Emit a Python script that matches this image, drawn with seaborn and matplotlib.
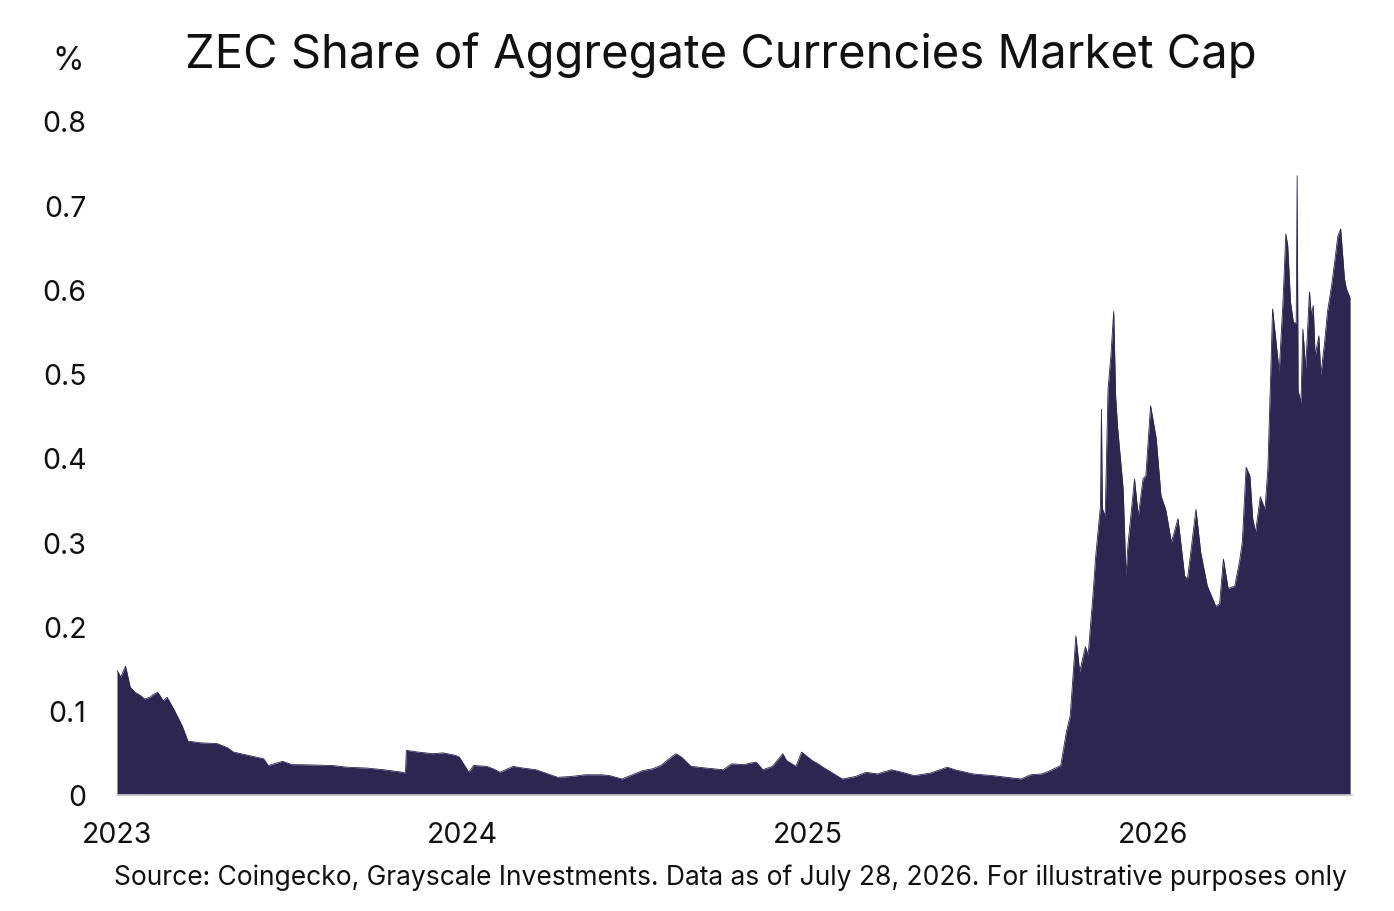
import pandas as pd
import matplotlib
matplotlib.use("Agg")
import matplotlib.pyplot as plt
import seaborn as sns

# values (share of market cap, %)
dates = [
    "2023-01-01", "2023-01-05", "2023-01-10", "2023-01-15", "2023-01-20", "2023-01-26",
    "2023-01-30", "2023-02-05", "2023-02-08", "2023-02-13", "2023-02-19", "2023-02-23",
    "2023-03-02", "2023-03-11", "2023-03-17", "2023-03-30", "2023-04-17", "2023-04-28",
    "2023-05-04", "2023-06-05", "2023-06-10", "2023-06-25", "2023-06-30", "2023-07-05",
    "2023-07-14", "2023-08-17", "2023-09-01", "2023-09-22", "2023-10-10", "2023-10-30",
    "2023-11-02", "2023-11-03", "2023-11-15", "2023-12-01", "2023-12-12", "2023-12-25",
    "2023-12-29", "2024-01-08", "2024-01-13", "2024-01-27", "2024-02-03", "2024-02-10",
    "2024-02-24", "2024-03-05", "2024-03-19", "2024-04-11", "2024-04-25", "2024-05-10",
    "2024-05-28", "2024-06-05", "2024-06-18", "2024-07-10", "2024-07-20", "2024-07-29",
    "2024-08-08", "2024-08-14", "2024-08-20", "2024-08-30", "2024-09-15", "2024-10-03",
    "2024-10-12", "2024-10-25", "2024-11-01", "2024-11-07", "2024-11-14", "2024-11-24",
    "2024-12-05", "2024-12-09", "2024-12-19", "2024-12-25", "2025-01-05", "2025-01-10",
    "2025-01-18", "2025-02-06", "2025-02-20", "2025-03-03", "2025-03-15", "2025-03-30",
    "2025-04-10", "2025-04-23", "2025-05-10", "2025-05-28", "2025-06-05", "2025-06-24",
    "2025-07-15", "2025-08-14", "2025-08-24", "2025-09-05", "2025-09-12", "2025-09-25",
    "2025-10-01", "2025-10-05", "2025-10-11", "2025-10-15", "2025-10-21", "2025-10-24",
    "2025-10-29", "2025-11-01", "2025-11-06", "2025-11-07", "2025-11-08", "2025-11-11",
    "2025-11-14", "2025-11-17", "2025-11-20", "2025-11-22", "2025-11-24", "2025-11-30",
    "2025-12-03", "2025-12-05", "2025-12-12", "2025-12-16", "2025-12-21", "2025-12-24",
    "2025-12-29", "2026-01-04", "2026-01-09", "2026-01-14", "2026-01-20", "2026-01-27",
    "2026-02-03", "2026-02-06", "2026-02-15", "2026-02-20", "2026-02-27", "2026-03-08",
    "2026-03-12", "2026-03-16", "2026-03-21", "2026-03-28", "2026-04-02", "2026-04-05",
    "2026-04-09", "2026-04-13", "2026-04-16", "2026-04-19", "2026-04-24", "2026-04-29",
    "2026-05-02", "2026-05-05", "2026-05-07", "2026-05-10", "2026-05-14", "2026-05-18",
    "2026-05-21", "2026-05-23", "2026-05-26", "2026-05-29", "2026-06-01", "2026-06-02",
    "2026-06-03", "2026-06-06", "2026-06-08", "2026-06-11", "2026-06-15", "2026-06-17",
    "2026-06-19", "2026-06-21", "2026-06-25", "2026-06-27", "2026-07-01", "2026-07-04",
    "2026-07-09", "2026-07-15", "2026-07-18", "2026-07-22", "2026-07-24", "2026-07-28",
]
share = [
    0.148, 0.140, 0.153, 0.128, 0.122, 0.118,
    0.114, 0.116, 0.119, 0.122, 0.112, 0.116,
    0.102, 0.082, 0.064, 0.062, 0.061, 0.056,
    0.051, 0.043, 0.035, 0.040, 0.038, 0.036,
    0.036, 0.035, 0.033, 0.032, 0.030, 0.027,
    0.026, 0.053, 0.051, 0.049, 0.050, 0.047,
    0.045, 0.027, 0.035, 0.034, 0.031, 0.027,
    0.034, 0.032, 0.030, 0.021, 0.022, 0.024,
    0.024, 0.023, 0.019, 0.029, 0.031, 0.035,
    0.044, 0.049, 0.045, 0.034, 0.032, 0.030,
    0.037, 0.036, 0.038, 0.039, 0.030, 0.034,
    0.049, 0.041, 0.034, 0.051, 0.041, 0.038,
    0.032, 0.019, 0.022, 0.027, 0.025, 0.030,
    0.027, 0.023, 0.026, 0.033, 0.030, 0.025,
    0.023, 0.019, 0.024, 0.025, 0.028, 0.035,
    0.075, 0.094, 0.189, 0.146, 0.176, 0.166,
    0.236, 0.284, 0.343, 0.458, 0.340, 0.331,
    0.482, 0.521, 0.574, 0.474, 0.438, 0.363,
    0.260, 0.296, 0.375, 0.331, 0.375, 0.379,
    0.462, 0.423, 0.355, 0.339, 0.300, 0.328,
    0.260, 0.256, 0.339, 0.288, 0.248, 0.224,
    0.227, 0.280, 0.245, 0.248, 0.277, 0.300,
    0.389, 0.379, 0.328, 0.312, 0.354, 0.339,
    0.387, 0.498, 0.577, 0.545, 0.502, 0.585,
    0.666, 0.652, 0.585, 0.561, 0.560, 0.735,
    0.480, 0.466, 0.553, 0.506, 0.597, 0.569,
    0.581, 0.521, 0.545, 0.498, 0.537, 0.573,
    0.609, 0.663, 0.672, 0.613, 0.601, 0.590,
]
year_ticks = ["2023-01-01", "2024-01-01", "2025-01-01", "2026-01-01"]
year_labels = ["2023", "2024", "2025", "2026"]
y_ticks = [0, 0.1, 0.2, 0.3, 0.4, 0.5, 0.6, 0.7, 0.8]
y_labels = ["0", "0.1", "0.2", "0.3", "0.4", "0.5", "0.6", "0.7", "0.8"]

df = pd.DataFrame({"date": pd.to_datetime(dates), "share": share}).sort_values("date")

sns.set_theme(style="white")
plt.rcParams["font.family"] = ["Inter", "DejaVu Sans"]

navy = "#2d2650"

fig = plt.figure(figsize=(13.94, 9.12), dpi=100)
ax = fig.add_axes([117 / 1394, 1 - 796 / 912, (1352 - 117) / 1394, (796 - 122) / 912])

sns.lineplot(data=df, x="date", y="share", ax=ax, color=navy, linewidth=0.6)
ax.fill_between(df["date"], 0, df["share"], color=navy, linewidth=0)

ax.set_xlim(pd.Timestamp("2023-01-01"), pd.Timestamp("2026-07-30"))
ax.set_ylim(0, 0.8)
ax.set_xticks(pd.to_datetime(year_ticks))
ax.set_xticklabels(year_labels, fontsize=20.5, color="#111111")
ax.set_yticks(y_ticks)
ax.set_yticklabels(y_labels, fontsize=20.5, color="#111111")
ax.set_xlabel("")
ax.set_ylabel("")

for side in ["top", "right", "left"]:
    ax.spines[side].set_visible(False)
ax.spines["bottom"].set_color("#cfcfcf")
ax.spines["bottom"].set_linewidth(1.2)
ax.tick_params(axis="y", length=0, pad=22)
ax.tick_params(axis="x", length=6, width=1, color="#cfcfcf", pad=13)

fig.text(721 / 1394, 1 - 55 / 912, "ZEC Share of Aggregate Currencies Market Cap",
         ha="center", va="center", fontsize=34, color="#111111")
fig.text(68 / 1394, 1 - 62 / 912, "%", ha="center", va="center", fontsize=23, color="#111111")
fig.text(1347 / 1394, 1 - 878 / 912,
         "Source: Coingecko, Grayscale Investments. Data as of July 28, 2026. For illustrative purposes only",
         ha="right", va="center", fontsize=19, color="#111111")

fig.savefig("out.png", dpi=100)
